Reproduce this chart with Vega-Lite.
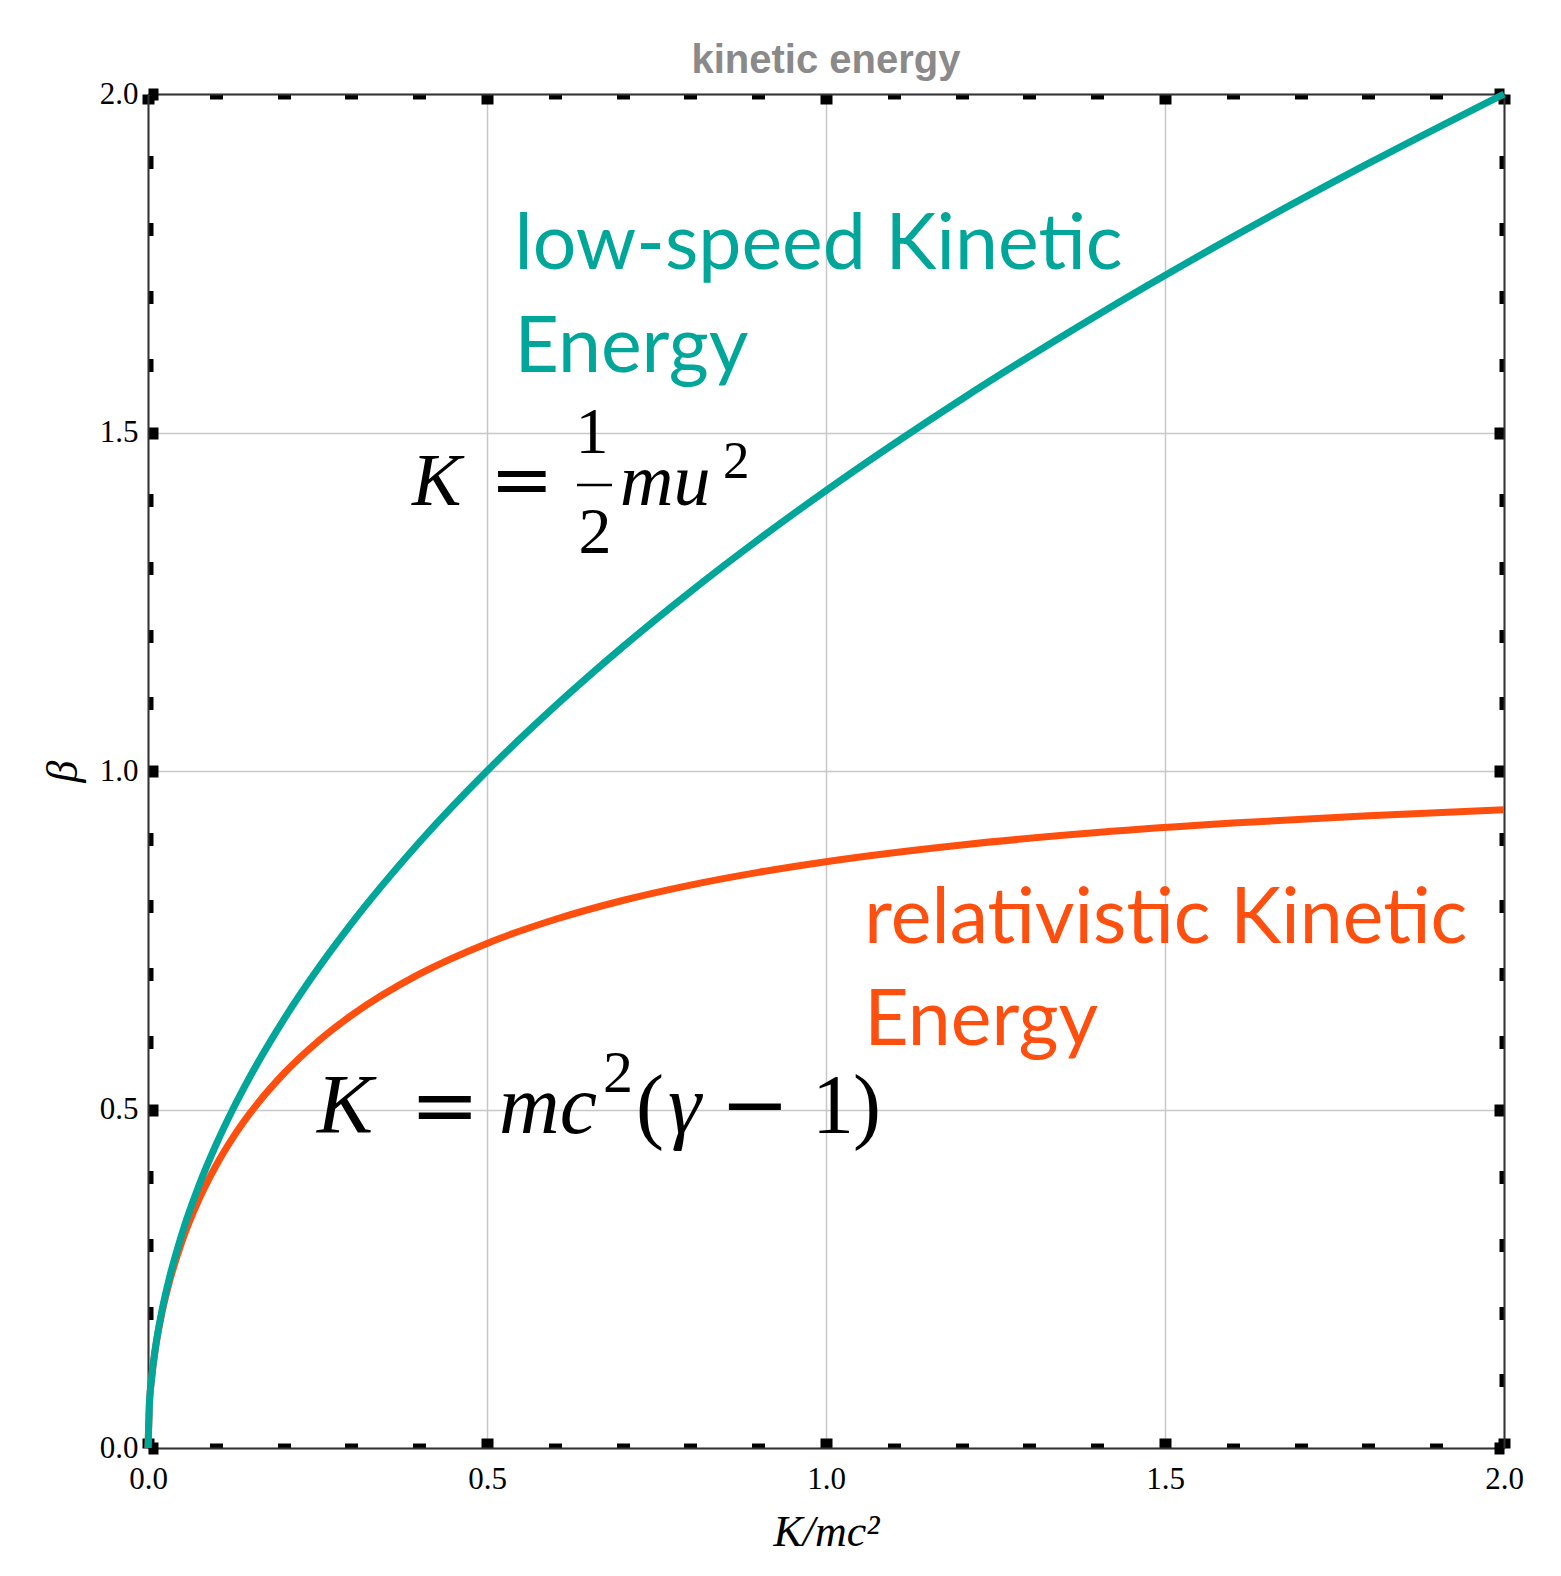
{
  "$schema": "https://vega.github.io/schema/vega-lite/v6.json",
  "width": 1356,
  "height": 1354,
  "autosize": {"type": "none"},
  "padding": {"left": 148, "top": 94, "right": 57, "bottom": 128},
  "background": "white",
  "title": {"text": "kinetic energy", "font": "Liberation Sans", "fontSize": 40, "fontWeight": "bold", "color": "#8a8a8a", "anchor": "middle", "offset": -3},
  "config": {"view": {"stroke": null}},
  "datasets": {
    "curves": [
      {"K": 0, "beta": 0, "series": "rel"},
      {"K": 0.002, "beta": 0.06315, "series": "rel"},
      {"K": 0.005, "beta": 0.09962, "series": "rel"},
      {"K": 0.01, "beta": 0.14037, "series": "rel"},
      {"K": 0.02, "beta": 0.19706, "series": "rel"},
      {"K": 0.03, "beta": 0.23959, "series": "rel"},
      {"K": 0.05, "beta": 0.30491, "series": "rel"},
      {"K": 0.075, "beta": 0.36697, "series": "rel"},
      {"K": 0.1, "beta": 0.4166, "series": "rel"},
      {"K": 0.125, "beta": 0.45812, "series": "rel"},
      {"K": 0.15, "beta": 0.49382, "series": "rel"},
      {"K": 0.2, "beta": 0.55277, "series": "rel"},
      {"K": 0.25, "beta": 0.6, "series": "rel"},
      {"K": 0.3, "beta": 0.63897, "series": "rel"},
      {"K": 0.4, "beta": 0.69986, "series": "rel"},
      {"K": 0.5, "beta": 0.74536, "series": "rel"},
      {"K": 0.6, "beta": 0.78063, "series": "rel"},
      {"K": 0.7, "beta": 0.80869, "series": "rel"},
      {"K": 0.8, "beta": 0.83148, "series": "rel"},
      {"K": 0.9, "beta": 0.85029, "series": "rel"},
      {"K": 1.0, "beta": 0.86603, "series": "rel"},
      {"K": 1.2, "beta": 0.89072, "series": "rel"},
      {"K": 1.4, "beta": 0.90906, "series": "rel"},
      {"K": 1.6, "beta": 0.92308, "series": "rel"},
      {"K": 1.8, "beta": 0.93405, "series": "rel"},
      {"K": 2.0, "beta": 0.94281, "series": "rel"},
      {"K": 0, "beta": 0, "series": "low"},
      {"K": 0.002, "beta": 0.0632, "series": "low"},
      {"K": 0.005, "beta": 0.1, "series": "low"},
      {"K": 0.01, "beta": 0.1414, "series": "low"},
      {"K": 0.02, "beta": 0.2, "series": "low"},
      {"K": 0.03, "beta": 0.2449, "series": "low"},
      {"K": 0.05, "beta": 0.3162, "series": "low"},
      {"K": 0.075, "beta": 0.3873, "series": "low"},
      {"K": 0.1, "beta": 0.4472, "series": "low"},
      {"K": 0.125, "beta": 0.5, "series": "low"},
      {"K": 0.15, "beta": 0.5477, "series": "low"},
      {"K": 0.2, "beta": 0.6325, "series": "low"},
      {"K": 0.25, "beta": 0.7071, "series": "low"},
      {"K": 0.3, "beta": 0.7746, "series": "low"},
      {"K": 0.4, "beta": 0.8944, "series": "low"},
      {"K": 0.5, "beta": 1.0, "series": "low"},
      {"K": 0.6, "beta": 1.0954, "series": "low"},
      {"K": 0.7, "beta": 1.1832, "series": "low"},
      {"K": 0.8, "beta": 1.2649, "series": "low"},
      {"K": 0.9, "beta": 1.3416, "series": "low"},
      {"K": 1.0, "beta": 1.4142, "series": "low"},
      {"K": 1.2, "beta": 1.5492, "series": "low"},
      {"K": 1.4, "beta": 1.6733, "series": "low"},
      {"K": 1.6, "beta": 1.7889, "series": "low"},
      {"K": 1.8, "beta": 1.8974, "series": "low"},
      {"K": 2.0, "beta": 2.0, "series": "low"}
    ],
    "tealText": [
      {"t": "low-speed Kinetic", "x": 0.5407, "y": 1.7409},
      {"t": "Energy", "x": 0.5407, "y": 1.5895}
    ],
    "orangeText": [
      {"t": "relativistic Kinetic", "x": 1.0566, "y": 0.7462},
      {"t": "Energy", "x": 1.0566, "y": 0.5947}
    ],
    "mathItalic": [
      {"t": "K", "f": "f1", "x": 0.3894, "y": 1.3929},
      {"t": "mu", "f": "f1", "x": 0.6962, "y": 1.3929},
      {"t": "K", "f": "f2", "x": 0.2493, "y": 0.4653},
      {"t": "mc", "f": "f2", "x": 0.5177, "y": 0.4653},
      {"t": "γ", "f": "f2", "x": 0.767, "y": 0.4653}
    ],
    "mathUpright": [
      {"t": "1", "f": "f1", "x": 0.6305, "y": 1.4697},
      {"t": "2", "f": "f1", "x": 0.6349, "y": 1.322},
      {"t": "(", "f": "f2", "x": 0.7198, "y": 0.4653},
      {"t": "1", "f": "f2", "x": 0.9794, "y": 0.4653},
      {"t": ")", "f": "f2", "x": 1.0398, "y": 0.4653}
    ],
    "mathOps": [
      {"t": "=", "f": "f1", "x": 0.5044, "y": 1.3929},
      {"t": "=", "f": "f2", "x": 0.3864, "y": 0.4653},
      {"t": "−", "f": "f2", "x": 0.8437, "y": 0.4653}
    ],
    "mathSup": [
      {"t": "2", "f": "f1", "x": 0.8481, "y": 1.4328},
      {"t": "2", "f": "f2", "x": 0.6711, "y": 0.5259}
    ],
    "fracBar": [
      {"x": 0.6327, "x2": 0.6844, "y": 1.4224}
    ]
  },
  "resolve": {"axis": {"x": "independent", "y": "independent"}, "scale": {"size": "independent"}},
  "layer": [
    {
      "data": {"name": "curves"},
      "mark": {"type": "line", "strokeWidth": 7, "interpolate": "monotone"},
      "encoding": {
        "x": {"field": "K", "type": "quantitative", "scale": {"domain": [0, 2], "nice": false, "zero": false},
          "axis": {"orient": "bottom", "values": [0, 0.5, 1, 1.5, 2], "format": ".1f", "ticks": false, "domain": false, "grid": true, "gridColor": "#c8c8c8", "gridWidth": 1.5,
            "labelFont": "Liberation Serif", "labelFontSize": 31, "labelColor": "#000", "labelPadding": 16, "labelFlush": false, "labelOverlap": false,
            "title": "K/mc²", "titleFont": "Liberation Serif", "titleFontStyle": "italic", "titleFontWeight": "normal", "titleFontSize": 44, "titleColor": "#000", "titlePadding": 16}},
        "y": {"field": "beta", "type": "quantitative", "scale": {"domain": [0, 2], "nice": false, "zero": false},
          "axis": {"orient": "left", "values": [0, 0.5, 1, 1.5, 2], "format": ".1f", "ticks": false, "domain": false, "grid": true, "gridColor": "#c8c8c8", "gridWidth": 1.5,
            "labelFont": "Liberation Serif", "labelFontSize": 31, "labelColor": "#000", "labelPadding": 10, "labelFlush": false, "labelOverlap": false,
            "title": "β", "titleFont": "Liberation Serif", "titleFontStyle": "italic", "titleFontWeight": "normal", "titleFontSize": 44, "titleColor": "#000", "titlePadding": 14}},
        "color": {"field": "series", "type": "nominal", "scale": {"domain": ["rel", "low"], "range": ["#FF4F0F", "#00A699"]}, "legend": null}
      }
    },
    {
      "data": {"name": "tealText"},
      "mark": {"type": "text", "font": "Lato", "fontSize": 77, "color": "#00A699", "align": "left", "baseline": "alphabetic"},
      "encoding": {
        "x": {"field": "x", "type": "quantitative", "scale": {"domain": [0, 2], "nice": false, "zero": false},
          "axis": {"orient": "bottom", "values": [0.1, 0.2, 0.3, 0.4, 0.6, 0.7, 0.8, 0.9, 1.1, 1.2, 1.3, 1.4, 1.6, 1.7, 1.8, 1.9], "labels": false, "domain": false, "grid": false, "ticks": true, "tickSize": -5, "tickWidth": 13, "tickColor": "#000", "title": null}},
        "y": {"field": "y", "type": "quantitative", "scale": {"domain": [0, 2], "nice": false, "zero": false},
          "axis": {"orient": "left", "values": [0.1, 0.2, 0.3, 0.4, 0.6, 0.7, 0.8, 0.9, 1.1, 1.2, 1.3, 1.4, 1.6, 1.7, 1.8, 1.9], "labels": false, "domain": false, "grid": false, "ticks": true, "tickSize": -5, "tickWidth": 13, "tickColor": "#000", "title": null}},
        "text": {"field": "t", "type": "nominal"}
      }
    },
    {
      "data": {"name": "orangeText"},
      "mark": {"type": "text", "font": "Lato", "fontSize": 77, "color": "#FF4F0F", "align": "left", "baseline": "alphabetic"},
      "encoding": {
        "x": {"field": "x", "type": "quantitative", "scale": {"domain": [0, 2], "nice": false, "zero": false},
          "axis": {"orient": "bottom", "values": [0, 0.5, 1, 1.5, 2], "labels": false, "domain": true, "domainColor": "#333", "domainWidth": 2, "grid": false, "ticks": true, "tickSize": -10, "tickWidth": 12, "tickColor": "#000", "title": null}},
        "y": {"field": "y", "type": "quantitative", "scale": {"domain": [0, 2], "nice": false, "zero": false},
          "axis": {"orient": "left", "values": [0, 0.5, 1, 1.5, 2], "labels": false, "domain": true, "domainColor": "#333", "domainWidth": 2, "grid": false, "ticks": true, "tickSize": -10, "tickWidth": 12, "tickColor": "#000", "title": null}},
        "text": {"field": "t", "type": "nominal"}
      }
    },
    {
      "data": {"name": "mathItalic"},
      "mark": {"type": "text", "font": "Liberation Serif", "fontStyle": "italic", "color": "#000", "align": "left", "baseline": "alphabetic"},
      "encoding": {
        "x": {"field": "x", "type": "quantitative", "scale": {"domain": [0, 2], "nice": false, "zero": false},
          "axis": {"orient": "top", "values": [0.1, 0.2, 0.3, 0.4, 0.6, 0.7, 0.8, 0.9, 1.1, 1.2, 1.3, 1.4, 1.6, 1.7, 1.8, 1.9], "labels": false, "domain": false, "grid": false, "ticks": true, "tickSize": -5, "tickWidth": 13, "tickColor": "#000", "title": null}},
        "y": {"field": "y", "type": "quantitative", "scale": {"domain": [0, 2], "nice": false, "zero": false},
          "axis": {"orient": "right", "values": [0.1, 0.2, 0.3, 0.4, 0.6, 0.7, 0.8, 0.9, 1.1, 1.2, 1.3, 1.4, 1.6, 1.7, 1.8, 1.9], "labels": false, "domain": false, "grid": false, "ticks": true, "tickSize": -5, "tickWidth": 13, "tickColor": "#000", "title": null}},
        "size": {"field": "f", "type": "ordinal", "scale": {"domain": ["f1", "f2"], "range": [74, 84]}, "legend": null},
        "text": {"field": "t", "type": "nominal"}
      }
    },
    {
      "data": {"name": "mathUpright"},
      "mark": {"type": "text", "font": "Liberation Serif", "color": "#000", "align": "left", "baseline": "alphabetic"},
      "encoding": {
        "x": {"field": "x", "type": "quantitative", "scale": {"domain": [0, 2], "nice": false, "zero": false},
          "axis": {"orient": "top", "values": [0, 0.5, 1, 1.5, 2], "labels": false, "domain": true, "domainColor": "#333", "domainWidth": 2, "grid": false, "ticks": true, "tickSize": -10, "tickWidth": 12, "tickColor": "#000", "title": null}},
        "y": {"field": "y", "type": "quantitative", "scale": {"domain": [0, 2], "nice": false, "zero": false},
          "axis": {"orient": "right", "values": [0, 0.5, 1, 1.5, 2], "labels": false, "domain": true, "domainColor": "#333", "domainWidth": 2, "grid": false, "ticks": true, "tickSize": -10, "tickWidth": 12, "tickColor": "#000", "title": null}},
        "size": {"field": "f", "type": "ordinal", "scale": {"domain": ["f1", "f2"], "range": [66, 84]}, "legend": null},
        "text": {"field": "t", "type": "nominal"}
      }
    },
    {
      "data": {"name": "mathOps"},
      "mark": {"type": "text", "font": "DejaVu Serif", "color": "#000", "align": "left", "baseline": "alphabetic"},
      "encoding": {
        "x": {"field": "x", "type": "quantitative", "scale": {"domain": [0, 2], "nice": false, "zero": false}, "axis": null},
        "y": {"field": "y", "type": "quantitative", "scale": {"domain": [0, 2], "nice": false, "zero": false}, "axis": null},
        "size": {"field": "f", "type": "ordinal", "scale": {"domain": ["f1", "f2"], "range": [76, 83]}, "legend": null},
        "text": {"field": "t", "type": "nominal"}
      }
    },
    {
      "data": {"name": "mathSup"},
      "mark": {"type": "text", "font": "Liberation Serif", "color": "#000", "align": "left", "baseline": "alphabetic"},
      "encoding": {
        "x": {"field": "x", "type": "quantitative", "scale": {"domain": [0, 2], "nice": false, "zero": false}, "axis": null},
        "y": {"field": "y", "type": "quantitative", "scale": {"domain": [0, 2], "nice": false, "zero": false}, "axis": null},
        "size": {"field": "f", "type": "ordinal", "scale": {"domain": ["f1", "f2"], "range": [53, 60]}, "legend": null},
        "text": {"field": "t", "type": "nominal"}
      }
    },
    {
      "data": {"name": "fracBar"},
      "mark": {"type": "rule", "strokeWidth": 2.5, "color": "#000"},
      "encoding": {
        "x": {"field": "x", "type": "quantitative", "scale": {"domain": [0, 2], "nice": false, "zero": false}, "axis": null},
        "x2": {"field": "x2"},
        "y": {"field": "y", "type": "quantitative", "scale": {"domain": [0, 2], "nice": false, "zero": false}, "axis": null}
      }
    }
  ]
}
